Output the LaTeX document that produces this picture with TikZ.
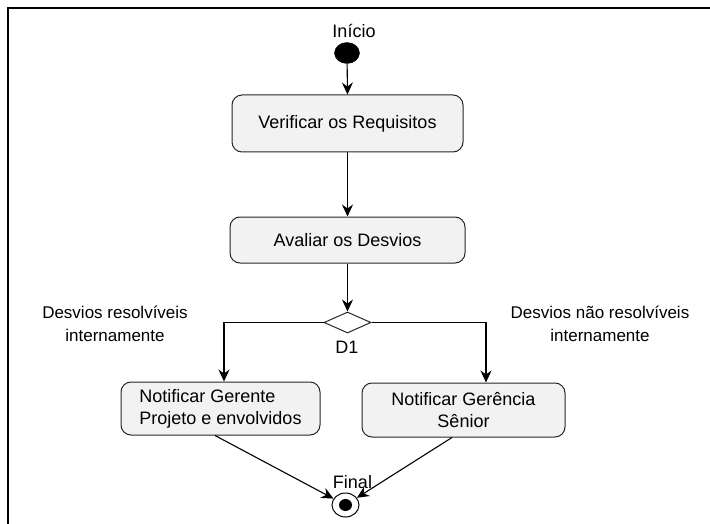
\documentclass[tikz,border=0pt]{standalone}
\usepackage{fontspec}
\setmainfont{Liberation Sans}
\usetikzlibrary{arrows.meta,shapes.geometric,calc}

\begin{document}
\begin{tikzpicture}[x=1pt,y=-1pt,
  act/.style={draw=black!85, line width=1pt, fill=black!5, rounded corners=10pt,
              inner sep=0pt, font=\fontsize{18}{22}\selectfont},
  flow/.style={draw, line width=1.1pt, -{Stealth[length=12pt,width=11pt,inset=4pt]}},
  lbl/.style={font=\fontsize{17}{23}\selectfont, align=center, inner sep=0pt},
  txt/.style={font=\fontsize{18}{22}\selectfont, inner sep=0pt},
]
\useasboundingbox (0,0) rectangle (710,524);
% page frame
\draw[line width=2.2pt] (8,524) -- (8,8) -- (710,8);

% start and end states
\node[txt] (tstart) at (354,31) {Início};
\node[ellipse, fill=black, draw=black, minimum width=25pt, minimum height=21pt, inner sep=0pt] (ini) at (347,53) {};

% activities
\node[act, minimum width=231pt, minimum height=57pt] (b1) at (347.5,123.5) {Verificar os Requisitos};
\node[act, minimum width=235pt, minimum height=46pt] (b2) at (347.5,240) {Avaliar os Desvios};
\node[diamond, draw=black!85, line width=1pt, fill=white, minimum width=47pt, minimum height=21pt, inner sep=0pt] (d) at (347.5,322.5) {};
\node[txt] (dl) at (347,347) {D1};

\node[act, minimum width=199pt, minimum height=53pt, align=left] (b3) at (220.5,408.5)
  {Notificar Gerente\\Projeto e envolvidos};
\node[act, minimum width=203pt, minimum height=54pt, align=center] (b4) at (463.5,410)
  {Notificar Gerência\\Sênior};

\node[lbl] (l1) at (115,324) {Desvios resolvíveis\\internamente};
\node[lbl] (l2) at (600,324) {Desvios não resolvíveis\\internamente};

\node[txt] (tfin) at (352.5,482) {Final};
\node[ellipse, draw=black, line width=1pt, fill=white, minimum width=27pt, minimum height=24pt, inner sep=0pt] (fin) at (345.5,505) {};
\node[ellipse, fill=black, minimum width=13pt, minimum height=12pt, inner sep=0pt] (finc) at (345.5,505) {};

% flows
\draw[flow] (ini) -- (b1.north);
\draw[flow] (b1.south) -- (b2.north);
\draw[flow] (b2.south) -- (d.north);
\draw[flow] (d.west) -| ([xshift=3.5pt]b3.north);
\draw[flow] (d.east) -| ([xshift=22.5pt]b4.north);
\draw[flow] ([xshift=-5.5pt]b3.south) -- (fin);
\draw[flow] ([xshift=-11.5pt]b4.south) -- (fin);
\end{tikzpicture}
\end{document}
